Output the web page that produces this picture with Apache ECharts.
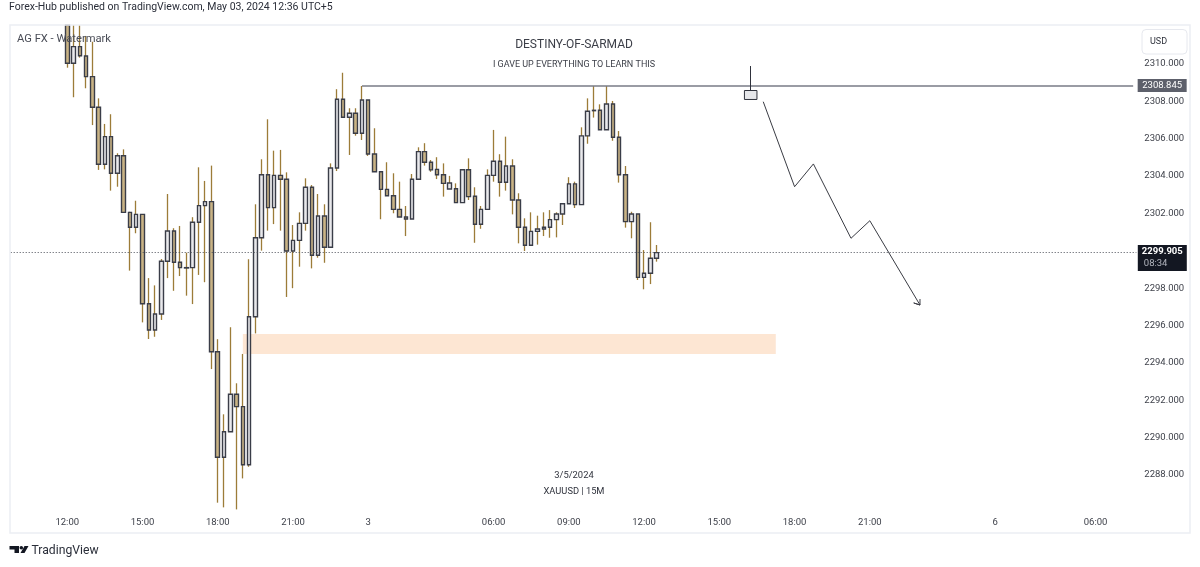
<!DOCTYPE html>
<html>
<head>
<meta charset="utf-8">
<style>
  html, body { margin: 0; padding: 0; background: #fff; }
  #chart { width: 1200px; height: 567px; }
</style>
<script src="https://cdn.jsdelivr.net/npm/echarts@6/dist/echarts.min.js"></script>
</head>
<body>
<div id="chart"></div>
<script>
// 15m bars, the first candles start at slot 9 of the time axis
const firstBar = 9;
const barSlots = 180;
// the first three candles run past the top of the pane, so their tops stop there
const opens = [2312.08,2310.04,2310.93,2310.43,2309.32,2307.68,2304.63,2306.11,2304.15,2305.09,2302.06,2301.26,2301.95,2297.17,2295.76,2296.62,2299.44,2301.06,2299.39,2299.10,2299.10,2301.53,2302.42,2302.63,2294.60,2288.95,2290.32,2292.32,2291.66,2288.55,2296.47,2300.70,2304.07,2302.31,2304.04,2303.83,2299.99,2300.56,2301.47,2303.40,2299.76,2301.86,2300.19,2304.43,2308.11,2307.15,2307.36,2306.29,2308.07,2305.18,2304.23,2303.29,2302.95,2302.22,2301.81,2301.70,2303.83,2305.31,2304.74,2304.36,2304.07,2303.31,2303.32,2302.58,2304.34,2302.92,2301.42,2302.22,2304.04,2304.79,2303.67,2304.54,2302.72,2301.26,2300.30,2301.04,2301.17,2301.26,2301.67,2301.97,2302.52,2303.58,2302.47,2306.15,2307.52,2307.52,2306.48,2307.86,2306.08,2304.07,2301.56,2301.97,2298.58,2298.80,2299.60];
const closes = [2310.04,2310.93,2310.44,2309.32,2307.68,2304.63,2306.11,2304.15,2305.09,2302.06,2301.26,2301.95,2297.17,2295.76,2296.62,2299.44,2301.06,2299.39,2299.10,2299.08,2301.53,2302.42,2302.63,2294.60,2288.95,2290.32,2292.32,2291.66,2288.55,2296.47,2300.70,2304.07,2302.31,2304.04,2303.83,2299.99,2300.56,2301.47,2303.40,2299.76,2301.86,2300.19,2304.43,2308.11,2307.15,2307.36,2306.29,2308.07,2305.18,2304.23,2303.29,2302.95,2302.22,2301.81,2301.70,2303.83,2305.31,2304.74,2304.33,2304.07,2303.61,2303.63,2302.58,2304.34,2302.90,2301.42,2302.22,2304.04,2304.79,2303.67,2304.54,2302.72,2301.26,2300.30,2301.04,2301.17,2301.26,2301.67,2301.97,2302.52,2303.58,2302.47,2306.15,2307.47,2307.50,2306.48,2307.86,2306.08,2304.07,2301.56,2301.97,2298.58,2298.80,2299.60,2299.905];
const lows = [2309.80,2308.22,2310.34,2308.70,2306.73,2304.33,2304.36,2303.22,2303.43,2302.06,2298.94,2300.94,2296.17,2295.28,2295.40,2296.30,2298.54,2297.86,2298.65,2297.60,2297.15,2298.71,2298.32,2293.67,2286.52,2286.27,2290.32,2286.16,2287.82,2288.44,2295.58,2300.01,2301.08,2301.43,2301.08,2297.53,2298.00,2299.15,2301.08,2299.06,2299.63,2299.36,2300.19,2304.27,2307.15,2305.13,2306.16,2305.93,2305.08,2304.23,2301.69,2302.95,2302.01,2301.81,2300.79,2301.70,2303.83,2304.56,2304.23,2303.84,2302.90,2303.31,2302.58,2302.58,2302.72,2300.43,2301.18,2302.22,2303.70,2302.90,2303.22,2301.95,2300.40,2299.99,2300.30,2300.33,2300.79,2300.70,2300.72,2301.38,2302.52,2302.29,2302.47,2305.73,2307.13,2306.48,2306.48,2305.89,2303.65,2301.24,2300.67,2298.44,2297.94,2298.22,2299.42];
const highs = [2312.08,2312.08,2312.08,2311.50,2311.19,2308.16,2306.79,2307.31,2305.22,2305.43,2302.09,2302.68,2301.97,2298.54,2298.15,2299.56,2303.04,2301.21,2301.33,2299.90,2301.80,2304.47,2303.74,2304.56,2295.27,2291.25,2295.91,2292.91,2294.48,2299.55,2302.49,2304.90,2307.04,2305.36,2305.40,2304.20,2301.38,2302.06,2303.88,2303.52,2303.04,2302.49,2304.68,2308.65,2309.53,2307.63,2307.63,2308.82,2308.07,2306.56,2304.23,2304.74,2304.15,2303.70,2302.40,2304.11,2305.54,2305.76,2304.86,2305.01,2304.68,2304.01,2303.61,2304.34,2304.95,2303.40,2302.40,2304.36,2306.47,2305.17,2306.11,2304.90,2303.08,2301.74,2302.06,2301.88,2302.06,2302.18,2302.06,2302.52,2303.94,2303.70,2306.61,2308.16,2308.82,2307.84,2308.82,2308.02,2306.41,2304.54,2302.09,2301.97,2300.04,2301.53,2300.31];

// time axis labels and their slots (gold closes 1h a day, weekend is skipped)
const tickSlots = [9,21,33,45,57,77,89,101,113,125,137,157,173];
const tickTexts = ['12:00','15:00','18:00','21:00','3','06:00','09:00','12:00','15:00','18:00','21:00','6','06:00'];

const lastPrice = 2299.905;
const countdown = '08:34';
const levelPrice = 2308.845;
const levelStart = 56;

// orange demand zone
const zoneSlots = [37,122];
const zonePrices = [2295.55,2294.48];

// hand drawn idea candle
const ideaSlots = [117,119];
const ideaBody = [2308.58,2308.10];
const ideaWick = [118,2309.89];

// hand drawn projection, ends in an open arrow head
const pathSlots = [120,125,128,134,137,145,144,145,145];
const pathPrices = [2307.98,2303.43,2304.65,2300.67,2301.61,2297.10,2297.21,2297.10,2297.42];

const fontName = 'Roboto';
const chart = echarts.init(document.getElementById('chart'));

const categories = [];
for (let i = 0; i < barSlots; i++) {
  const at = tickSlots.indexOf(i);
  categories.push(at >= 0 ? tickTexts[at] : '');
}
const pad = [];
for (let i = 0; i < firstBar; i++) pad.push(['-','-','-','-']);
const wickData = pad.concat(opens.map((o, i) => [o, closes[i], lows[i], highs[i]]));
const bodyData = pad.concat(opens.map((o, i) => [o, closes[i], Math.min(o, closes[i]), Math.max(o, closes[i])]));

chart.setOption({
  animation: false,
  backgroundColor: '#fff',
  textStyle: { fontFamily: fontName },
  grid: { left: 7.7, right: 63.7, top: 26.6, bottom: 54.6 },
  xAxis: {
    type: 'category',
    data: categories,
    axisLine: { show: false },
    axisTick: { show: false },
    splitLine: { show: false },
    axisLabel: {
      interval: 0,
      margin: 5,
      fontSize: 9.5,
      color: '#3c3f48',
      formatter: (value) => value
    }
  },
  yAxis: {
    type: 'value',
    position: 'right',
    min: 2286,
    max: 2312,
    interval: 2,
    axisLine: { show: false },
    axisTick: { show: false },
    splitLine: { show: false },
    axisLabel: {
      margin: 8,
      fontSize: 9.5,
      color: '#3c3f48',
      formatter: (v) => (v <= 2286 || v >= 2312 ? '' : v.toFixed(3))
    }
  },
  series: [
    {
      name: 'wicks',
      type: 'candlestick',
      data: wickData,
      barWidth: 0.01,
      barMinWidth: 0,
      itemStyle: {
        color: '#9c7c38', color0: '#9c7c38',
        borderColor: '#9c7c38', borderColor0: '#9c7c38',
        borderColorDoji: '#9c7c38', borderWidth: 1.3
      },
      markArea: {
        silent: true,
        data: [[
          { xAxis: zoneSlots[0], yAxis: zonePrices[0], itemStyle: { color: '#fde6d3' } },
          { xAxis: zoneSlots[1], yAxis: zonePrices[1] }
        ]]
      }
    },
    {
      name: 'bodies',
      type: 'candlestick',
      data: bodyData,
      barWidth: 4,
      barMinWidth: 0,
      itemStyle: {
        color: '#e9e9ec', color0: '#c9b385',
        borderColor: '#3a3d48', borderColor0: '#3a3d48',
        borderColorDoji: '#3a3d48', borderWidth: 1.4
      }
    },
    {
      name: 'projection',
      type: 'line',
      data: pathSlots.map((s, i) => [s, pathPrices[i]]),
      symbol: 'none',
      lineStyle: { color: '#3a3c44', width: 1 },
      markArea: {
        silent: true,
        data: [[
          { xAxis: ideaSlots[0], yAxis: ideaBody[0], itemStyle: { color: '#e6e7ea', borderColor: '#2f323c', borderWidth: 1 } },
          { xAxis: ideaSlots[1], yAxis: ideaBody[1] }
        ]]
      },
      markLine: {
        silent: true,
        symbol: 'none',
        animation: false,
        data: [
          {
            yAxis: lastPrice,
            lineStyle: { color: '#4a4d57', type: [1, 2], width: 1 },
            label: {
              position: 'end',
              distance: 1.5,
              offset: [0, 5.5],
              width: 49,
              lineHeight: 12,
              padding: [1, 0, 1, 0],
              align: 'left',
              backgroundColor: '#131722',
              formatter: '{p|' + lastPrice.toFixed(3) + '}\n{t|' + countdown + '}',
              rich: {
                p: { color: '#fff', fontSize: 9.5, fontWeight: 'bold', width: 49, align: 'center', lineHeight: 12 },
                t: { color: '#b2b5be', fontSize: 9.5, width: 49, padding: [0, 0, 0, 6], align: 'left', lineHeight: 12 }
              }
            }
          },
          [
            {
              xAxis: levelStart, yAxis: levelPrice,
              lineStyle: { color: '#787b86', type: 'solid', width: 1.5 },
              label: {
                position: 'end',
                distance: 4.5,
                width: 49,
                lineHeight: 13,
                align: 'left',
                backgroundColor: '#5d606b',
                formatter: '{p|' + levelPrice.toFixed(3) + '}',
                rich: {
                  p: { color: '#fff', fontSize: 9.5, width: 49, align: 'center', lineHeight: 13 }
                }
              }
            },
            { xAxis: barSlots - 1, yAxis: levelPrice }
          ],
          [
            { xAxis: ideaWick[0], yAxis: ideaWick[1], lineStyle: { color: '#2f323c', type: 'solid', width: 1 }, label: { show: false } },
            { xAxis: ideaWick[0], yAxis: ideaBody[0] }
          ]
        ]
      }
    }
  ],
  graphic: [
    // covers what the grid draws left of the pane, then the pane frame
    { type: 'rect', z: 50, silent: true, shape: { x: 0, y: 20, width: 9.5, height: 520 }, style: { fill: '#fff' } },
    { type: 'rect', z: 51, silent: true, shape: { x: 10, y: 25, width: 1180, height: 508 }, style: { fill: 'none', stroke: '#eceef3', lineWidth: 1.5 } },
    { type: 'rect', z: 52, silent: true, shape: { x: 1142, y: 29.5, width: 45, height: 24.5, r: 4 }, style: { fill: '#fff', stroke: '#e6e8ee', lineWidth: 1 } },
    { type: 'text', z: 53, silent: true, style: { x: 1150, y: 41.5, text: 'USD', fontFamily: fontName, fontSize: 9, fill: '#2f323c', verticalAlign: 'middle' } },
    { type: 'text', z: 53, silent: true, style: { x: 9, y: 7, text: 'Forex-Hub published on TradingView.com, May 03, 2024 12:36 UTC+5', fontFamily: fontName, fontSize: 10.5, fill: '#2a2e39', verticalAlign: 'middle' } },
    { type: 'text', z: 53, silent: true, style: { x: 17, y: 39, text: 'AG FX - Watermark', fontFamily: fontName, fontSize: 11.2, fill: '#4a4d57', verticalAlign: 'middle' } },
    { type: 'text', z: 53, silent: true, style: { x: 574, y: 45, text: 'DESTINY-OF-SARMAD', fontFamily: fontName, fontSize: 12, fill: '#3c3f48', align: 'center', verticalAlign: 'middle' } },
    { type: 'text', z: 53, silent: true, style: { x: 574, y: 65, text: 'I GAVE UP EVERYTHING TO LEARN THIS', fontFamily: fontName, fontSize: 9, fill: '#3c3f48', align: 'center', verticalAlign: 'middle' } },
    { type: 'text', z: 53, silent: true, style: { x: 574, y: 476, text: '3/5/2024', fontFamily: fontName, fontSize: 9.4, fill: '#2f323c', align: 'center', verticalAlign: 'middle' } },
    { type: 'text', z: 53, silent: true, style: { x: 574, y: 492, text: 'XAUUSD | 15M', fontFamily: fontName, fontSize: 9.3, fill: '#2f323c', align: 'center', verticalAlign: 'middle' } },
    // TradingView logo
    { type: 'polygon', z: 53, silent: true, shape: { points: [[9.5,546],[19,546],[19,553],[14.5,553],[14.5,549.5],[9.5,549.5]] }, style: { fill: '#131722' } },
    { type: 'circle', z: 53, silent: true, shape: { cx: 21.3, cy: 547.8, r: 1.8 }, style: { fill: '#131722' } },
    { type: 'polygon', z: 53, silent: true, shape: { points: [[24.5,546],[28.5,546],[24.5,553],[20.5,553]] }, style: { fill: '#131722' } },
    { type: 'text', z: 53, silent: true, style: { x: 31.5, y: 551, text: 'TradingView', fontFamily: fontName, fontSize: 12.2, fill: '#2a2e39', verticalAlign: 'middle' } }
  ]
});
</script>
</body>
</html>
